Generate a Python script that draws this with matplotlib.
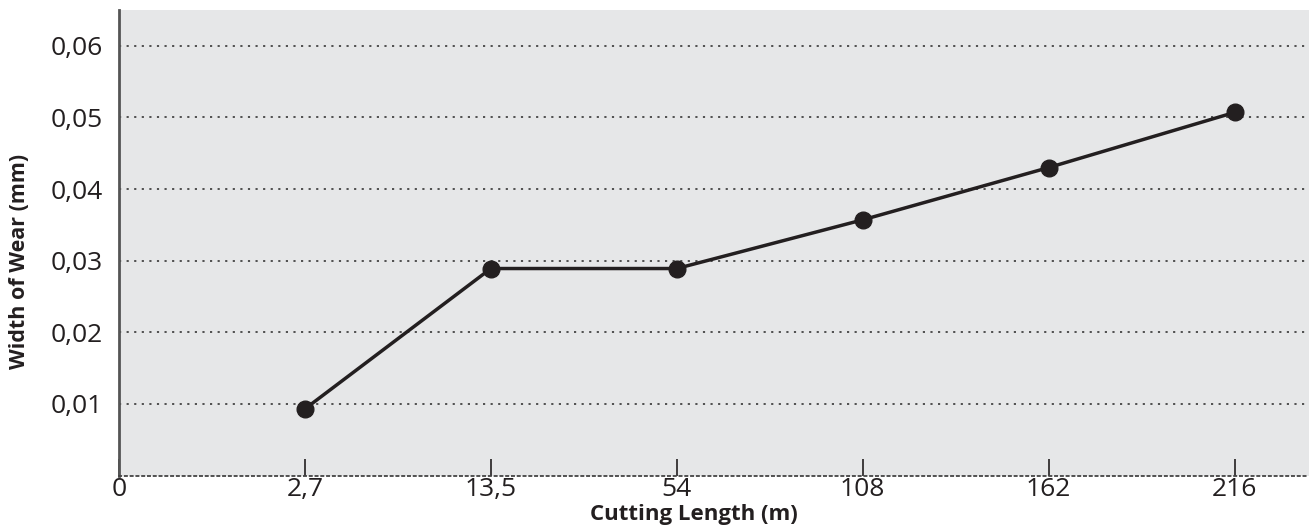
import matplotlib.pyplot as plt

plt.rcParams['font.family'] = ['Open Sans', 'DejaVu Sans']

# data
x_labels = ['0', '2,7', '13,5', '54', '108', '162', '216']
cutting_length = ['2,7', '13,5', '54', '108', '162', '216']
wear_width = [0.0093, 0.0289, 0.0289, 0.0357, 0.0430, 0.0507]
y_ticks = [0.01, 0.02, 0.03, 0.04, 0.05, 0.06]
y_labels = ['0,01', '0,02', '0,03', '0,04', '0,05', '0,06']

ink = '#231f20'

fig = plt.figure(figsize=(13.09, 5.26), dpi=100)
ax = fig.add_axes([0.0909, 0.096, 0.9091, 0.885])
ax.set_facecolor('#e6e7e8')

xpos = [x_labels.index(c) for c in cutting_length]
ax.plot(xpos, wear_width, color=ink, linewidth=2.5, marker='o',
        markersize=12, zorder=3)

ax.set_xlim(0, 6.4)
ax.set_ylim(0, 0.065)

ax.set_yticks(y_ticks)
ax.set_yticklabels(y_labels, fontsize=19, color=ink)
ax.set_xticks(range(len(x_labels)))
ax.set_xticklabels(x_labels, fontsize=19, color=ink)

# dotted grid
for y in y_ticks:
    ax.axhline(y, color='#444444', linestyle=(0, (1.2, 3)), linewidth=1.3, zorder=1)

for s in ['top', 'right']:
    ax.spines[s].set_visible(False)
ax.spines['left'].set_color('#555555')
ax.spines['left'].set_linewidth(2)
ax.spines['bottom'].set_color('#444444')
ax.spines['bottom'].set_linewidth(1.3)
ax.spines['bottom'].set_linestyle((0, (1.2, 2)))

ax.tick_params(axis='y', left=False, pad=8)
ax.tick_params(axis='x', direction='in', length=12, width=1.2, color=ink, pad=1)

fig.text(0.53, 0.002, 'Cutting Length (m)', fontsize=16, fontweight='bold',
         color=ink, ha='center', va='bottom')
ax.set_ylabel('Width of Wear (mm)', fontsize=15.5, fontweight='bold', color=ink)
ax.yaxis.set_label_coords(-0.075, 0.46)

fig.savefig('out.png', dpi=100)
